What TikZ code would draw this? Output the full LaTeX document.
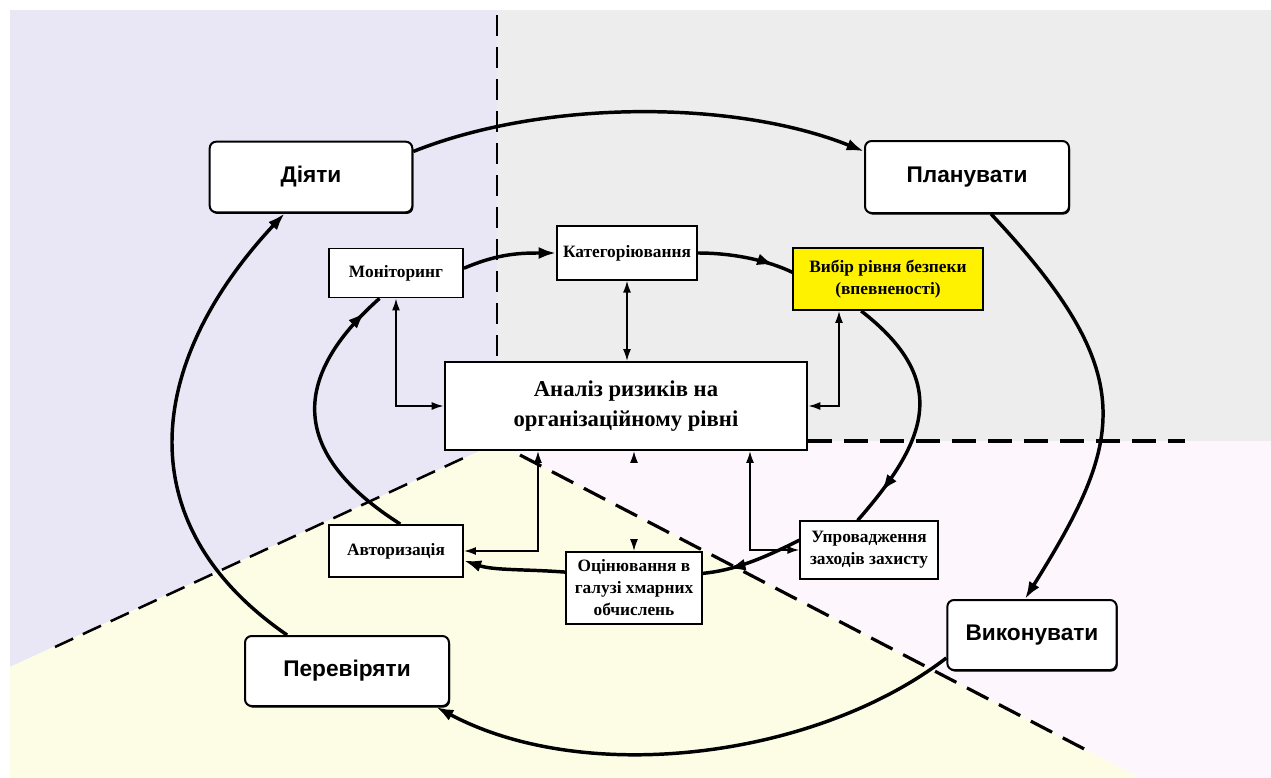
\documentclass[tikz,border=0pt]{standalone}
\usepackage{fontspec}
\setmainfont{Liberation Serif}
\setsansfont{Liberation Sans}
\usetikzlibrary{arrows.meta,calc,shadows,decorations.markings}
\definecolor{lavfill}{RGB}{233,231,246}
\definecolor{grayfill}{RGB}{237,237,237}
\definecolor{pinkfill}{RGB}{253,246,253}
\definecolor{yelfill}{RGB}{253,253,230}

\begin{document}
\begin{tikzpicture}[x=0.75pt,y=0.75pt,yscale=-1,xscale=1,
  phasebox/.style={draw,line width=1.5pt,rounded corners=5pt,fill=white,
    drop shadow={shadow xshift=0.8pt,shadow yshift=-1.2pt,opacity=1,fill=black},
    font=\sffamily\bfseries\fontsize{17}{20}\selectfont,inner sep=0pt},
  taskbox/.style={draw,line width=1.4pt,fill=white,inner sep=0pt,align=center,
    font=\bfseries\fontsize{13}{16.5}\selectfont},
  loopline/.style={line width=2.6pt,-{Latex[length=13pt,width=9pt]}},
  loopthick/.style={line width=2.6pt},
  markarrow/.style={postaction={decorate},decoration={markings,
    mark=at position #1 with {\arrow{Latex[length=13pt,width=9pt]}}}},
  twoway/.style={line width=1.3pt,{Latex[length=9pt,width=6pt]}-{Latex[length=9pt,width=6pt]}},
  zoneline/.style={line width=2.4pt,dash pattern=on 18pt off 9pt}]

\useasboundingbox (0,0) rectangle (1271,778);
\fill[lavfill] (10,10) -- (497,10) -- (497,443) -- (10,667) -- cycle;
\fill[grayfill] (497,10) -- (1271,10) -- (1271,441) -- (497,441) -- cycle;
\fill[pinkfill] (497,441) -- (1271,441) -- (1271,778) -- (1140,778) -- (497,443) -- cycle;
\fill[yelfill] (10,667) -- (497,443) -- (1140,778) -- (10,778) -- cycle;

\draw[zoneline,line width=1.8pt,dash pattern=on 16pt off 8pt] (497,15) -- (497,360);
\draw[zoneline] (808,441) -- (1185,441);
\draw[zoneline,line width=1.9pt,dash pattern=on 15pt off 8pt] (55,647) -- (470,455);
\draw[zoneline] (520,455) -- (1090,752);

\node[phasebox,minimum width=152pt,minimum height=53pt] (dijaty) at (311,177) {Діяти};
\node[phasebox,minimum width=153pt,minimum height=54pt] (planuvaty) at (967,177) {Планувати};
\node[phasebox,minimum width=127pt,minimum height=52.5pt] (vykonuvaty) at (1032,635) {Виконувати};
\node[phasebox,minimum width=153pt,minimum height=52.5pt] (pereviryaty) at (347,671) {Перевіряти};

\node[taskbox,minimum width=100.5pt,minimum height=36.75pt] (monitor) at (396,273) {Моніторинг};
\node[taskbox,minimum width=105pt,minimum height=40pt] (katehor) at (627,253) {Категоріювання};
\node[taskbox,fill=yellow,minimum width=142pt,minimum height=46.5pt] (vybir) at (888,279) {Вибір рівня безпеки\\(впевненості)};
\node[taskbox,minimum width=272pt,minimum height=66pt,font=\bfseries\fontsize{17}{23}\selectfont] (analiz) at (626,406) {Аналіз ризиків на\\організаційному рівні};
\node[taskbox,minimum width=100.5pt,minimum height=39pt] (avtor) at (396,551) {Авторизація};
\node[taskbox,minimum width=102pt,minimum height=54pt] (ocin) at (634,588) {Оцінювання в\\галузі хмарних\\обчислень};
\node[taskbox,minimum width=103pt,minimum height=43pt] (uprov) at (869,550) {Упровадження\\заходів захисту};

\draw[loopline] (dijaty.14) .. controls +(130,-52) and +(-130,-52) .. (planuvaty.166);
\draw[loopline] (planuvaty.-57) .. controls +(150,160) and +(100,-160) .. (vykonuvaty.101);
\draw[loopline] (vykonuvaty.195) .. controls +(-130,100) and +(150,80) .. (pereviryaty.-22);
\draw[loopline] (pereviryaty.149) .. controls +(-160,-110) and +(-140,150) .. (dijaty.234);

\draw[loopline] (monitor.4) .. controls +(35,-15) and +(-35,0) .. (katehor.west);
\draw[loopthick,markarrow=0.8] (katehor.east) .. controls +(35,0) and +(-25,-12) .. (vybir.176);
\draw[loopthick,markarrow=0.85] (vybir.230) .. controls +(90,70) and +(70,-80) .. (uprov.111);
\draw[loopthick,markarrow=0.75] (uprov.172) .. controls +(-40,20) and +(30,-3) .. (ocin.12);
\draw[loopline] (ocin.167) .. controls +(-40,-3) and +(30,10) .. (avtor.-8);
\draw[loopthick,markarrow=0.93] (avtor.81) .. controls +(-110,-70) and +(-90,80) .. (monitor.237);

\draw[twoway] (monitor.south) |- (analiz.west);
\draw[twoway] (katehor.south) -- (katehor.south |- analiz.north);
\draw[twoway] ($(vybir.south)+(-49,0)$) |- (analiz.east);
\draw[twoway] ($(analiz.south)+(-88,0)$) |- (avtor.east);
\draw[twoway] ($(analiz.south)+(124,0)$) |- (uprov.west);
\draw[twoway,dash pattern=on 0pt off 300pt] (ocin.north |- analiz.south) -- (ocin.north);

\end{tikzpicture}
\end{document}
